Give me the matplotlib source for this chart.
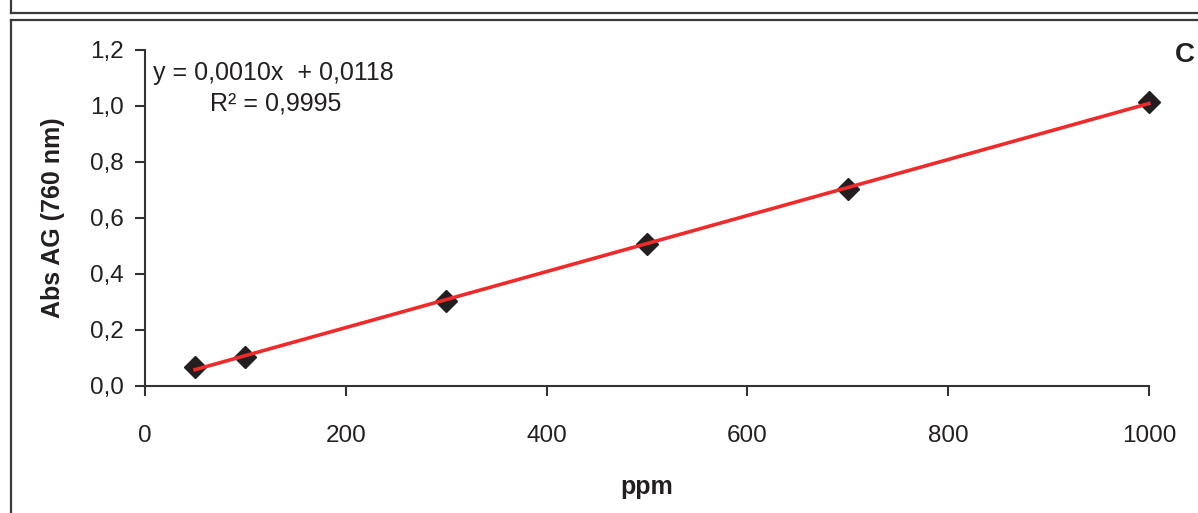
import matplotlib
matplotlib.use('Agg')
import matplotlib.pyplot as plt
import numpy as np
from matplotlib.lines import Line2D

ppm = [50, 100, 300, 500, 700, 1000]
absorb = [0.068, 0.104, 0.304, 0.507, 0.704, 1.014]
xticks = [0, 200, 400, 600, 800, 1000]
yticks = [0.0, 0.2, 0.4, 0.6, 0.8, 1.0, 1.2]
ytick_labels = ['0,0', '0,2', '0,4', '0,6', '0,8', '1,0', '1,2']

plt.rcParams['font.family'] = ['Liberation Sans', 'DejaVu Sans']
ink = '#231f20'

fig = plt.figure(figsize=(11.98, 5.13), dpi=100)
ax = fig.add_axes([0.121, 0.2476, 0.838, 0.655])

# linear trendline through the points
slope, icpt = np.polyfit(ppm, absorb, 1)
xs = np.array([ppm[0], ppm[-1]])
ax.plot(xs, slope * xs + icpt, color='#ee2a2a', linewidth=2.6, zorder=3,
        clip_on=False)
ax.plot(ppm, absorb, linestyle='none', marker='D', markersize=11,
        color=ink, zorder=2, clip_on=False)

ax.set_xlim(0, 1000)
ax.set_ylim(0, 1.2)
ax.set_xticks(xticks)
ax.set_xticklabels([str(t) for t in xticks])
ax.set_yticks(yticks)
ax.set_yticklabels(ytick_labels)
for s in ['top', 'right']:
    ax.spines[s].set_visible(False)
for s in ['left', 'bottom']:
    ax.spines[s].set_color('#333333')
    ax.spines[s].set_linewidth(1.5)
ax.tick_params(axis='x', length=7, width=1.5, color='#333333', labelsize=17.5,
               labelcolor=ink, pad=21)
ax.tick_params(axis='y', length=7, width=1.5, color='#333333', labelsize=17.5,
               labelcolor=ink, pad=8)
ax.set_xlabel('ppm', fontsize=18, fontweight='bold', color=ink, labelpad=20)
ax.set_ylabel('Abs AG (760 nm)', fontsize=18, fontweight='bold', color=ink, labelpad=18)

ax.text(0.008, 0.931, 'y = 0,0010x  + 0,0118', transform=ax.transAxes,
        fontsize=18, color=ink, va='center', ha='left')
ax.text(0.065, 0.84, 'R² = 0,9995', transform=ax.transAxes,
        fontsize=18, color=ink, va='center', ha='left')
fig.text(0.981, 0.893, 'C', fontsize=20, fontweight='bold', color=ink,
         ha='left', va='center')

# panel frame lines
fr = dict(color='#3a3a3a', linewidth=1.6, transform=fig.transFigure)
fig.add_artist(Line2D([0.0092, 1.0], [1 - 13 / 513, 1 - 13 / 513], **fr))
fig.add_artist(Line2D([0.0092, 0.0092], [1.0, 1 - 13 / 513], **fr))
fig.add_artist(Line2D([0.0092, 1.0], [1 - 20 / 513, 1 - 20 / 513], **fr))
fig.add_artist(Line2D([0.0092, 0.0092], [0.0, 1 - 20 / 513], **fr))

fig.savefig('out.png', dpi=100)
